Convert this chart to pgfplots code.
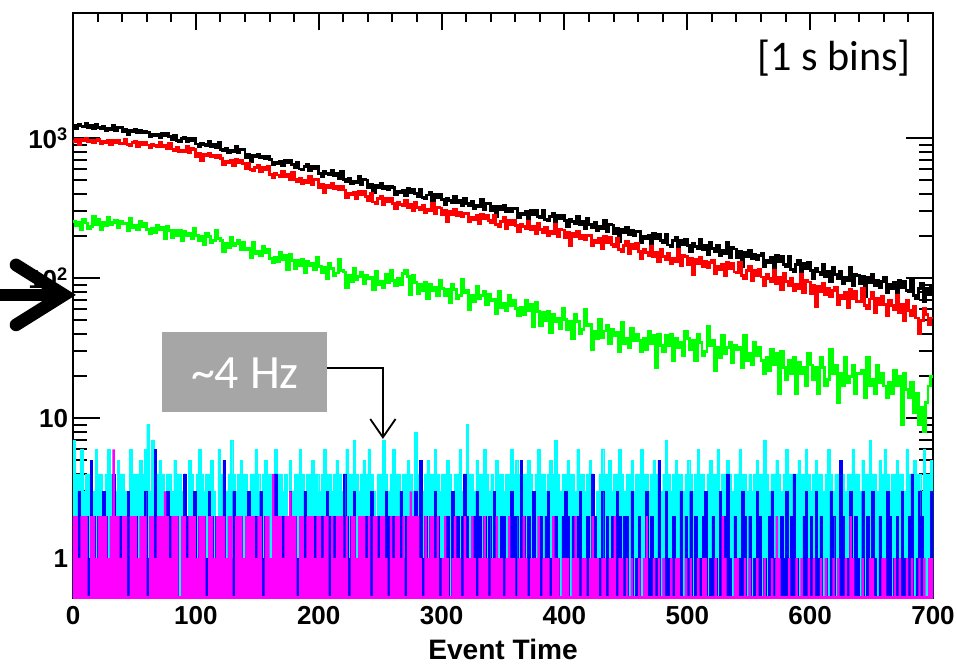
\documentclass[border=0pt]{standalone}
\usepackage{pgfplots}
\pgfplotsset{compat=1.18}
\usepackage{pgfplotstable}
\usetikzlibrary{arrows.meta}
\usepackage{fontspec}
\setmainfont{Liberation Sans}
\newfontfamily\calibri{Carlito}
\definecolor{rcyan}{HTML}{00FFFF}
\definecolor{rblue}{HTML}{0000FF}
\definecolor{rmagenta}{HTML}{FF00FF}
\definecolor{rgreen}{HTML}{00FF00}
\definecolor{rred}{HTML}{FF0000}
\definecolor{boxgray}{HTML}{A6A6A6}

\begin{document}
% counts per 1 s, read in 2 s steps from 0 to 698 s; the last row repeats to close the step at 700
\pgfplotstableread[row sep=\\,header=false]{
1230\\1182\\1248\\1224\\1206\\1272\\1196\\1227\\1164\\1251\\
1192\\1168\\1212\\1144\\1175\\1158\\1236\\1134\\1195\\1189\\
1110\\1150\\1054\\1143\\1117\\1160\\1100\\1130\\1094\\1123\\
1100\\1023\\1061\\1045\\1074\\1010\\1087\\1049\\1081\\1033\\
980\\1045\\964\\952\\992\\1020\\940\\996\\968\\1002\\
909\\867\\924\\903\\888\\945\\879\\906\\852\\927\\
835\\814\\852\\794\\820\\805\\872\\785\\837\\832\\
732\\764\\686\\759\\737\\772\\724\\748\\718\\743\\
706\\644\\675\\662\\686\\634\\696\\665\\691\\652\\
615\\667\\603\\593\\625\\647\\583\\627\\605\\633\\
564\\531\\576\\559\\547\\593\\540\\562\\519\\579\\
506\\491\\519\\475\\495\\484\\535\\469\\508\\504\\
442\\467\\406\\463\\446\\473\\435\\454\\431\\450\\
443\\395\\419\\409\\427\\387\\435\\411\\431\\401\\
386\\428\\376\\368\\394\\412\\360\\396\\378\\400\\
364\\337\\373\\360\\350\\387\\345\\362\\328\\375\\
342\\329\\353\\317\\333\\324\\365\\311\\344\\340\\
306\\327\\275\\324\\309\\333\\300\\316\\297\\313\\
314\\273\\293\\285\\300\\266\\307\\287\\304\\278\\
271\\305\\263\\257\\277\\292\\250\\279\\265\\282\\
257\\234\\265\\254\\246\\276\\241\\255\\226\\266\\
242\\231\\251\\220\\234\\226\\261\\216\\243\\240\\
209\\228\\184\\225\\212\\232\\205\\219\\202\\216\\
215\\181\\198\\191\\203\\175\\209\\192\\206\\185\\
180\\207\\173\\168\\185\\197\\163\\187\\175\\189\\
172\\154\\178\\169\\163\\188\\159\\171\\147\\180\\
163\\154\\171\\145\\157\\151\\180\\141\\165\\162\\
141\\156\\121\\153\\144\\159\\138\\149\\135\\146\\
150\\121\\135\\129\\140\\116\\145\\131\\143\\125\\
121\\144\\115\\111\\125\\135\\107\\127\\117\\129\\
113\\99\\118\\111\\106\\125\\103\\112\\94\\119\\
106\\99\\112\\92\\101\\96\\119\\89\\107\\105\\
91\\103\\74\\101\\93\\106\\88\\97\\86\\95\\
101\\79\\90\\85\\93\\75\\97\\86\\95\\82\\
80\\99\\75\\72\\84\\92\\68\\85\\76\\86\\
86\\
}\blackT
\pgfplotstableread[row sep=\\,header=false]{
951\\988\\898\\982\\957\\997\\941\\969\\935\\963\\
983\\909\\946\\931\\959\\897\\971\\934\\965\\918\\
918\\981\\903\\891\\930\\957\\879\\933\\906\\939\\
896\\854\\911\\890\\875\\932\\866\\893\\839\\914\\
839\\818\\856\\798\\824\\809\\876\\789\\841\\836\\
742\\774\\696\\769\\747\\782\\734\\758\\728\\753\\
714\\652\\683\\670\\694\\642\\704\\673\\699\\660\\
607\\659\\595\\585\\617\\639\\575\\619\\597\\625\\
552\\520\\563\\547\\536\\580\\529\\550\\508\\566\\
507\\492\\520\\476\\496\\485\\536\\470\\509\\505\\
443\\468\\407\\464\\447\\474\\436\\455\\432\\451\\
427\\379\\403\\393\\411\\371\\419\\395\\415\\385\\
361\\401\\351\\344\\369\\386\\336\\371\\353\\374\\
340\\315\\349\\337\\328\\362\\322\\339\\306\\351\\
320\\307\\331\\295\\311\\302\\343\\289\\322\\318\\
284\\304\\255\\301\\287\\309\\279\\294\\275\\291\\
291\\253\\272\\264\\279\\247\\285\\266\\282\\258\\
249\\283\\241\\235\\255\\270\\228\\257\\243\\260\\
237\\215\\244\\234\\226\\255\\221\\235\\208\\246\\
223\\212\\232\\201\\215\\207\\242\\197\\224\\221\\
196\\213\\172\\210\\199\\217\\192\\204\\189\\201\\
204\\170\\187\\180\\192\\164\\198\\181\\195\\174\\
167\\194\\160\\155\\172\\184\\150\\174\\162\\176\\
155\\138\\161\\152\\146\\169\\143\\153\\132\\162\\
144\\136\\151\\127\\138\\132\\160\\124\\145\\143\\
125\\138\\106\\136\\127\\141\\121\\131\\119\\129\\
134\\108\\121\\116\\126\\104\\130\\117\\128\\111\\
109\\130\\104\\100\\113\\122\\96\\114\\105\\116\\
102\\88\\107\\100\\95\\114\\92\\101\\83\\108\\
95\\88\\100\\81\\90\\85\\107\\79\\96\\94\\
78\\89\\63\\87\\80\\92\\76\\84\\74\\82\\
86\\65\\76\\71\\79\\62\\83\\72\\81\\68\\
68\\85\\64\\61\\71\\79\\57\\72\\65\\74\\
65\\54\\69\\64\\60\\75\\57\\65\\50\\70\\
59\\54\\63\\52\\40\\50\\61\\55\\47\\52\\
52\\
}\redT
\pgfplotstableread[row sep=\\,header=false]{
253\\236\\250\\222\\262\\248\\228\\234\\275\\242\\
262\\223\\251\\237\\272\\242\\250\\261\\231\\253\\
244\\247\\220\\266\\230\\238\\224\\255\\235\\246\\
223\\210\\226\\213\\240\\221\\232\\192\\235\\218\\
196\\218\\203\\220\\186\\215\\202\\209\\192\\226\\
202\\186\\199\\174\\210\\198\\179\\185\\221\\192\\
187\\154\\178\\166\\195\\170\\176\\186\\160\\179\\
161\\164\\141\\179\\150\\156\\145\\170\\153\\162\\
139\\129\\142\\131\\152\\137\\146\\115\\149\\134\\
118\\135\\124\\137\\110\\133\\123\\128\\115\\142\\
121\\110\\119\\100\\128\\118\\104\\109\\136\\114\\
111\\86\\104\\95\\117\\98\\103\\110\\91\\105\\
99\\101\\83\\112\\90\\95\\86\\106\\93\\114\\
97\\88\\99\\90\\108\\113\\103\\76\\105\\93\\
78\\91\\82\\93\\71\\90\\81\\86\\75\\97\\
85\\75\\83\\67\\91\\83\\71\\75\\98\\79\\
82\\60\\76\\68\\87\\71\\75\\81\\65\\77\\
69\\71\\56\\81\\62\\66\\59\\75\\64\\70\\
61\\54\\62\\55\\69\\59\\65\\45\\67\\58\\
46\\57\\50\\58\\41\\55\\49\\52\\44\\61\\
51\\43\\49\\37\\55\\49\\40\\43\\60\\46\\
47\\31\\42\\37\\51\\38\\42\\46\\34\\43\\
39\\41\\30\\48\\34\\37\\32\\44\\36\\40\\
36\\30\\37\\31\\42\\34\\39\\23\\40\\33\\
30\\39\\33\\40\\26\\37\\32\\35\\28\\42\\
37\\31\\36\\26\\40\\35\\28\\30\\45\\33\\
36\\22\\32\\27\\39\\29\\32\\35\\25\\33\\
31\\32\\23\\39\\26\\29\\24\\35\\28\\32\\
26\\21\\27\\22\\31\\24\\29\\15\\30\\23\\
19\\26\\21\\27\\15\\25\\21\\23\\17\\29\\
24\\19\\23\\15\\27\\23\\17\\19\\31\\21\\
24\\13\\21\\17\\27\\18\\20\\24\\15\\21\\
21\\22\\14\\27\\17\\19\\15\\24\\18\\21\\
17\\14\\18\\15\\22\\17\\20\\9\\21\\16\\
14\\18\\11\\15\\9\\12\\8\\13\\17\\20\\
20\\
}\greenT
% low-rate channels, integer counts per bin; 0 means an empty bin
\pgfplotstableread[row sep=\\,header=false]{
7\\4\\4\\6\\3\\4\\4\\5\\3\\6\\4\\4\\3\\4\\6\\4\\4\\3\\5\\4\\4\\3\\2\\6\\4\\
4\\4\\5\\4\\6\\9\\3\\7\\4\\4\\5\\4\\3\\4\\4\\3\\5\\4\\4\\3\\4\\2\\5\\4\\3\\
4\\6\\4\\3\\4\\4\\5\\3\\2\\6\\4\\4\\3\\4\\7\\4\\3\\4\\5\\4\\4\\3\\4\\4\\6\\
4\\3\\4\\5\\4\\4\\3\\6\\4\\4\\3\\4\\2\\5\\3\\4\\4\\6\\4\\3\\4\\4\\5\\4\\4\\
3\\4\\6\\4\\4\\3\\4\\5\\4\\3\\4\\6\\4\\4\\7\\4\\3\\4\\5\\4\\6\\4\\3\\2\\4\\
4\\7\\4\\3\\4\\6\\4\\4\\3\\4\\4\\5\\4\\3\\8\\4\\4\\3\\4\\5\\4\\4\\6\\4\\3\\
4\\4\\5\\4\\3\\4\\4\\6\\3\\4\\9\\4\\4\\3\\5\\4\\4\\6\\4\\3\\4\\2\\5\\4\\4\\
3\\4\\4\\6\\4\\5\\4\\3\\4\\4\\5\\4\\3\\4\\6\\4\\4\\3\\4\\5\\4\\7\\4\\3\\4\\
4\\5\\4\\4\\3\\6\\4\\4\\3\\4\\5\\4\\2\\3\\4\\6\\4\\4\\5\\3\\4\\4\\6\\4\\3\\
4\\4\\5\\3\\4\\4\\6\\4\\4\\3\\4\\5\\4\\4\\3\\4\\7\\4\\3\\4\\5\\4\\4\\3\\4\\
5\\4\\3\\4\\6\\4\\4\\3\\4\\5\\4\\4\\6\\3\\4\\4\\5\\4\\3\\4\\4\\6\\4\\4\\3\\
4\\3\\4\\5\\4\\4\\7\\4\\3\\4\\4\\5\\4\\3\\4\\6\\4\\4\\3\\4\\5\\4\\4\\6\\4\\
3\\4\\5\\4\\4\\3\\4\\6\\4\\3\\4\\4\\5\\4\\3\\4\\4\\6\\4\\4\\3\\5\\4\\4\\7\\
4\\4\\3\\5\\4\\6\\4\\3\\4\\4\\5\\4\\4\\3\\6\\4\\4\\5\\4\\4\\3\\6\\4\\4\\5\\
5\\
}\cyanT
\pgfplotstableread[row sep=\\,header=false]{
2\\1\\3\\2\\0\\2\\1\\5\\2\\1\\2\\0\\3\\2\\1\\2\\4\\1\\2\\2\\0\\1\\3\\2\\1\\
2\\1\\0\\2\\3\\1\\2\\2\\6\\1\\2\\0\\1\\3\\2\\1\\2\\2\\0\\1\\4\\2\\1\\2\\3\\
1\\2\\0\\2\\1\\3\\2\\1\\2\\0\\2\\5\\1\\2\\1\\3\\2\\0\\2\\1\\2\\3\\1\\0\\2\\
2\\3\\1\\2\\0\\1\\2\\4\\2\\1\\2\\0\\2\\3\\1\\2\\1\\2\\0\\3\\2\\1\\2\\2\\1\\
0\\2\\1\\3\\2\\1\\2\\0\\2\\1\\4\\2\\1\\2\\3\\0\\2\\1\\2\\2\\1\\3\\2\\1\\2\\
2\\1\\3\\2\\0\\2\\1\\2\\3\\1\\2\\2\\0\\1\\3\\2\\5\\1\\2\\0\\2\\1\\3\\2\\1\\
1\\2\\2\\0\\3\\1\\2\\0\\2\\4\\2\\0\\1\\2\\3\\2\\0\\2\\0\\2\\1\\3\\1\\0\\2\\
2\\0\\1\\3\\2\\2\\0\\5\\2\\0\\2\\1\\3\\0\\1\\2\\0\\2\\3\\1\\0\\2\\1\\0\\2\\
3\\2\\0\\2\\0\\2\\3\\1\\0\\2\\1\\4\\2\\0\\1\\3\\0\\2\\1\\2\\0\\3\\2\\0\\2\\
2\\0\\3\\0\\1\\2\\0\\1\\3\\1\\2\\0\\1\\5\\0\\1\\3\\1\\0\\2\\0\\1\\3\\0\\2\\
1\\3\\0\\2\\0\\1\\2\\3\\0\\1\\2\\1\\0\\3\\0\\2\\4\\1\\0\\2\\0\\1\\3\\2\\0\\
2\\0\\1\\3\\2\\0\\1\\0\\2\\3\\1\\0\\0\\2\\1\\3\\0\\2\\4\\1\\0\\0\\2\\3\\1\\
2\\0\\3\\1\\2\\0\\1\\0\\3\\2\\0\\1\\5\\2\\0\\1\\3\\0\\2\\1\\0\\3\\0\\2\\1\\
3\\1\\0\\2\\0\\1\\3\\2\\0\\1\\2\\0\\3\\1\\0\\2\\4\\0\\1\\3\\2\\0\\0\\1\\3\\
3\\
}\blueT
\pgfplotstableread[row sep=\\,header=false]{
2\\2\\1\\2\\2\\2\\0\\2\\2\\1\\2\\2\\2\\2\\1\\2\\6\\2\\2\\1\\2\\2\\0\\2\\2\\
2\\1\\2\\2\\2\\0\\2\\2\\1\\2\\2\\2\\3\\2\\1\\2\\2\\2\\0\\2\\2\\1\\2\\2\\2\\
1\\2\\2\\2\\0\\2\\2\\1\\2\\2\\2\\2\\1\\2\\2\\0\\2\\2\\2\\1\\2\\2\\2\\2\\1\\
2\\2\\0\\2\\2\\1\\4\\2\\2\\2\\1\\2\\2\\3\\2\\2\\0\\2\\2\\1\\2\\2\\2\\1\\2\\
2\\1\\2\\2\\0\\2\\1\\2\\2\\2\\1\\2\\0\\2\\2\\1\\2\\2\\2\\1\\2\\0\\2\\2\\1\\
2\\2\\1\\0\\2\\1\\2\\2\\1\\2\\0\\2\\3\\2\\2\\2\\1\\0\\2\\1\\2\\2\\1\\2\\0\\
1\\2\\1\\0\\1\\2\\1\\1\\0\\2\\1\\1\\2\\1\\0\\1\\1\\2\\1\\0\\1\\1\\2\\1\\1\\
0\\1\\2\\1\\1\\0\\1\\1\\2\\1\\0\\1\\1\\1\\2\\0\\1\\1\\1\\0\\2\\1\\1\\0\\1\\
1\\1\\0\\1\\2\\1\\0\\1\\1\\0\\1\\2\\1\\1\\0\\1\\1\\0\\1\\1\\2\\0\\1\\1\\0\\
1\\0\\1\\0\\0\\1\\0\\1\\2\\0\\0\\1\\0\\1\\0\\1\\0\\0\\1\\0\\1\\1\\0\\0\\1\\
0\\1\\0\\0\\1\\0\\1\\1\\0\\0\\0\\1\\0\\0\\2\\1\\0\\0\\0\\1\\1\\0\\0\\1\\0\\
1\\0\\0\\1\\0\\0\\1\\0\\0\\1\\0\\2\\1\\0\\0\\0\\1\\0\\0\\1\\0\\1\\0\\0\\1\\
0\\1\\0\\0\\1\\0\\1\\0\\0\\1\\0\\1\\0\\0\\1\\0\\2\\1\\0\\0\\0\\1\\0\\0\\1\\
1\\0\\0\\0\\1\\1\\0\\0\\0\\1\\0\\1\\0\\0\\1\\0\\1\\0\\0\\1\\0\\1\\0\\1\\1\\
1\\
}\magentaT

\begin{tikzpicture}
\begin{axis}[
  at={(0,0)}, anchor=south west, name=ax,
  scale only axis, width=21.5cm, height=14.625cm,
  ymode=log, log origin y=infty,
  xmin=0, xmax=700, ymin=0.52, ymax=7850,
  xtick={0,100,...,700}, xticklabels={0,100,200,300,400,500,600,700},
  minor x tick num=4,
  ytick={1,10,100,1000},
  yticklabels={1,10,10\textsuperscript{2},10\textsuperscript{3}},
  tick label style={font=\fontsize{18.5}{19}\selectfont\bfseries},
  xticklabel style={yshift=-0.08cm},
  major tick length=0.675cm, minor tick length=0.35cm,
  major x tick style={/pgfplots/major tick length=0.425cm},
  minor x tick style={/pgfplots/minor tick length=0.225cm},
  axis line style={line width=1.4pt},
  every tick/.style={black, line width=1.4pt},
  xlabel={Event Time},
  xlabel style={font=\fontsize{20}{22}\selectfont\bfseries, yshift=-0.12cm},
]
% low-rate channels, zero bins sit on the lower edge as in ROOT
\addplot[const plot, fill=rcyan, draw=rcyan, line width=0.3pt]
  table[x index=0, y index=0, x expr=2*\coordindex, y expr={max(\thisrowno{0},0.52)}] {\cyanT} \closedcycle;
\addplot[const plot, fill=rblue, draw=rblue, line width=0.3pt]
  table[x index=0, y index=0, x expr=2*\coordindex, y expr={max(\thisrowno{0},0.52)}] {\blueT} \closedcycle;
\addplot[const plot, fill=rmagenta, draw=none]
  table[x index=0, y index=0, x expr=2*\coordindex, y expr={max(\thisrowno{0},0.52)}] {\magentaT} \closedcycle;
\draw[rmagenta, line width=2.2pt] (rel axis cs:0,0) -- (rel axis cs:1,0);
% decaying channels
\addplot[const plot, draw=black, line width=2pt]
  table[x index=0, y index=0, x expr=2*\coordindex] {\blackT};
\addplot[const plot, draw=rred, line width=2pt]
  table[x index=0, y index=0, x expr=2*\coordindex] {\redT};
\addplot[const plot, draw=rgreen, line width=2pt]
  table[x index=0, y index=0, x expr=2*\coordindex] {\greenT};
\node[anchor=east, font=\calibri\fontsize{30}{30}\selectfont]
  at (rel axis cs:0.98,0.923) {[1 s bins]};
\end{axis}
% annotations, in pixels of the original slide (origin top left)
\begin{scope}[shift={(-1.825cm,14.95cm)}, x=0.025cm, y=-0.025cm]
  \fill[boxgray] (162,332) rectangle (327,412);
  \node[text=white, font=\calibri\fontsize{34}{34}\selectfont] at (245,373) {\textasciitilde4 Hz};
  \draw[line width=1.3pt, -{Straight Barb[length=13pt, width=18pt]}]
    (327,368) -- (383,368) -- (383,439);
  \draw[line width=9pt] (0,295) -- (58,295);
  \draw[line width=9pt, line cap=round] (16,265) -- (64,295) -- (16,325);
\end{scope}
\pgfresetboundingbox
\path[use as bounding box] (-1.825,-1.75) rectangle (22.1,14.95);
\end{tikzpicture}
\end{document}
